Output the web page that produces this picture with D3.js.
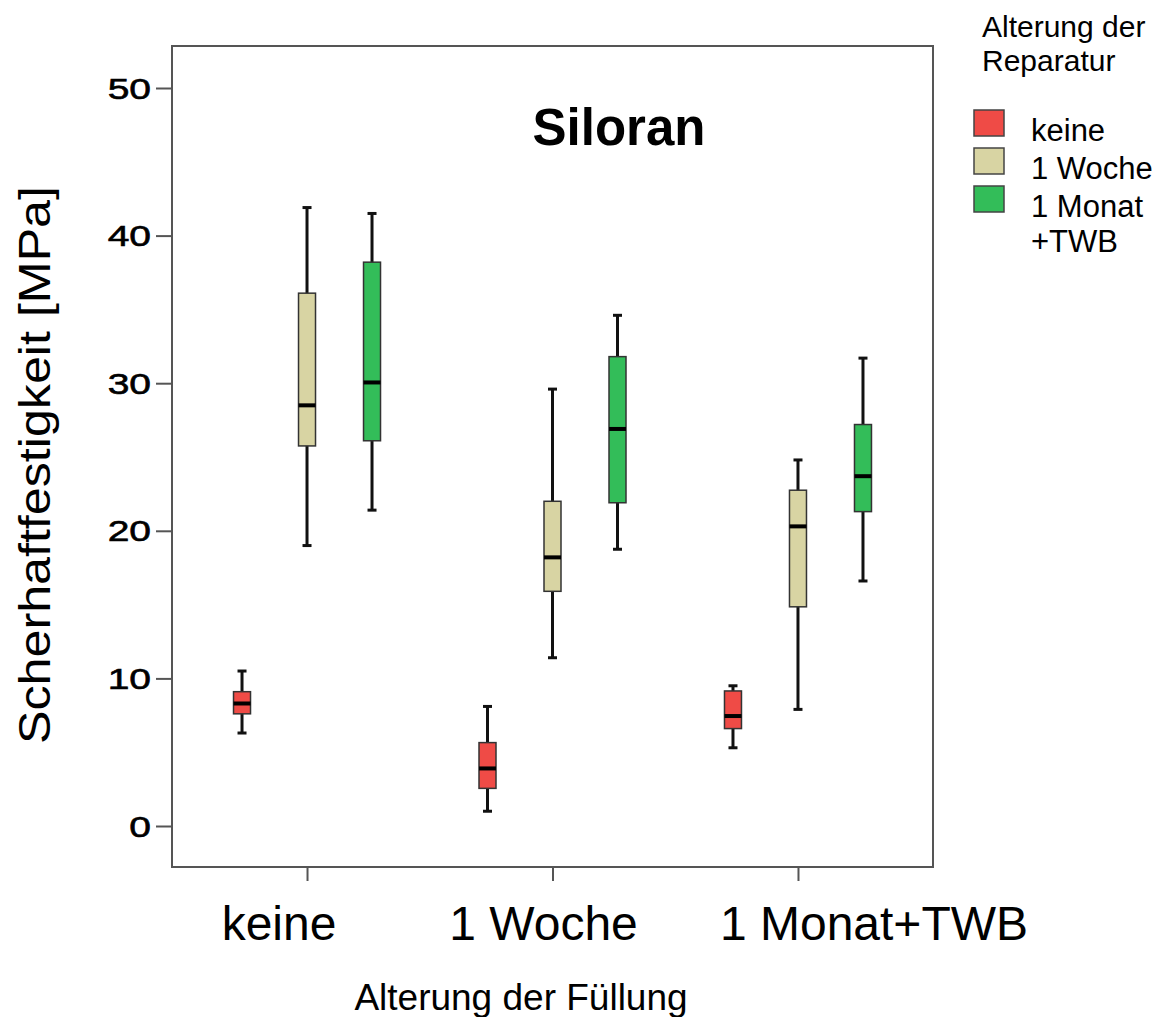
<!DOCTYPE html>
<html>
<head>
<meta charset="utf-8">
<script src="https://cdn.jsdelivr.net/npm/d3@7"></script>
<style>
  body { margin: 0; background: #fff; }
  text { font-family: "Liberation Sans", Arial, sans-serif; fill: #000; }
</style>
</head>
<body>
<svg id="chart" width="1173" height="1017"></svg>
<script>
// categories on the x axis (Alterung der Füllung)
const categories = ['keine', '1 Woche', '1 Monat+TWB']
// groups in the legend (Alterung der Reparatur)
const series = ['keine', '1 Woche', '1 Monat+TWB']
const seriesLegend = [['keine'], ['1 Woche'], ['1 Monat', '+TWB']]
const seriesColors = ['#ef4b46', '#d8d4a3', '#33bd59']

// [whisker low, Q1, median, Q3, whisker high] per category
const repKeine   = [[6.3, 7.6, 8.3, 9.1, 10.5], [1.0, 2.55, 3.9, 5.65, 8.1], [5.3, 6.6, 7.45, 9.15, 9.5]]
const repWoche   = [[19.0, 25.75, 28.5, 36.1, 41.9], [11.4, 15.9, 18.2, 22.0, 29.6], [7.9, 14.85, 20.3, 22.75, 24.8]]
const repMonat   = [[21.4, 26.1, 30.05, 38.2, 41.5], [18.75, 21.9, 26.9, 31.8, 34.6], [16.6, 21.3, 23.7, 27.2, 31.7]]

const yTicks = [0, 10, 20, 30, 40, 50]

const boxes = []
;[repKeine, repWoche, repMonat].forEach((arr, si) => {
  arr.forEach((v, ci) => {
    boxes.push({cat: categories[ci], ser: series[si], si: si,
      lo: v[0], q1: v[1], med: v[2], q3: v[3], hi: v[4]})
  })
})

const svg = d3.select('#chart')

const plotLeft = 172, plotRight = 933, plotTop = 46, plotBottom = 867

let y = d3.scaleLinear()
.domain([0, 50])
.range([826, 88])

let x = d3.scalePoint()
.domain(categories)
.range([plotLeft, plotRight])
.padding(0.55)

let xSub = d3.scalePoint()
.domain(series)
.range([-65, 65])

const boxW = 17, capW = 9

// frame
svg.append('rect')
.attr('x', plotLeft).attr('y', plotTop)
.attr('width', plotRight - plotLeft).attr('height', plotBottom - plotTop)
.attr('fill', 'none')
.attr('stroke', '#555')
.attr('stroke-width', 2)

// y axis
let yaxis = svg.append('g')
.attr('transform', `translate(${plotLeft},0)`)
.call(d3.axisLeft(y).tickValues(yTicks).tickSize(16).tickFormat(''))
yaxis.select('.domain').remove()
yaxis.selectAll('line').attr('stroke', '#555').attr('stroke-width', 2)

svg.append('g').selectAll('g')
.data(yTicks)
.enter()
.append('g')
.attr('transform', d => `translate(151,${y(d) + 10.5}) scale(1.3,1)`)
.append('text')
.attr('text-anchor', 'end')
.style('font-size', '30px')
.style('stroke', '#000')
.style('stroke-width', 0.6)
.text(d => d)

// x axis
let xaxis = svg.append('g')
.attr('transform', `translate(0,${plotBottom})`)
.call(d3.axisBottom(x).tickSize(14).tickFormat(''))
xaxis.select('.domain').remove()
xaxis.selectAll('line').attr('stroke', '#555').attr('stroke-width', 2)

const labelDx = [-28, -9, 76]
svg.append('g').selectAll('text')
.data(categories)
.enter()
.append('text')
.attr('x', (d, i) => x(d) + labelDx[i])
.attr('y', 940)
.attr('text-anchor', 'middle')
.style('font-size', '48px')
.text(d => d)

// boxes
let g = svg.append('g')
let bx = g.selectAll('g.box')
.data(boxes)
.enter()
.append('g')
.attr('class', 'box')
.attr('transform', d => `translate(${x(d.cat) + xSub(d.ser)},0)`)

bx.append('line')
.attr('x1', 0).attr('x2', 0)
.attr('y1', d => y(d.hi)).attr('y2', d => y(d.lo))
.attr('stroke', '#111').attr('stroke-width', 3)

bx.append('line')
.attr('x1', -capW / 2).attr('x2', capW / 2)
.attr('y1', d => y(d.hi)).attr('y2', d => y(d.hi))
.attr('stroke', '#111').attr('stroke-width', 3)

bx.append('line')
.attr('x1', -capW / 2).attr('x2', capW / 2)
.attr('y1', d => y(d.lo)).attr('y2', d => y(d.lo))
.attr('stroke', '#111').attr('stroke-width', 3)

bx.append('rect')
.attr('x', -boxW / 2)
.attr('width', boxW)
.attr('y', d => y(d.q3))
.attr('height', d => y(d.q1) - y(d.q3))
.attr('fill', d => seriesColors[d.si])
.attr('stroke', '#333')
.attr('stroke-width', 1.5)

bx.append('line')
.attr('x1', -boxW / 2).attr('x2', boxW / 2)
.attr('y1', d => y(d.med)).attr('y2', d => y(d.med))
.attr('stroke', '#000').attr('stroke-width', 4)

// title
svg.append('text')
.attr('x', 619).attr('y', 145)
.attr('text-anchor', 'middle')
.style('font-size', '51px')
.style('font-weight', 'bold')
.text('Siloran')

// axis titles
svg.append('text')
.attr('transform', 'translate(50,465) rotate(-90)')
.attr('text-anchor', 'middle')
.attr('textLength', 558)
.attr('lengthAdjust', 'spacingAndGlyphs')
.style('font-size', '44px')
.text('Scherhaftfestigkeit [MPa]')

svg.append('text')
.attr('x', 521).attr('y', 1010)
.attr('text-anchor', 'middle')
.style('font-size', '37px')
.text('Alterung der Füllung')

// legend
let legend = svg.append('g')
legend.append('text')
.attr('x', 982).attr('y', 37)
.style('font-size', '30px')
.text('Alterung der')
legend.append('text')
.attr('x', 982).attr('y', 71)
.style('font-size', '30px')
.text('Reparatur')

let items = legend.selectAll('g.item')
.data(series)
.enter()
.append('g')
.attr('class', 'item')
.attr('transform', (d, i) => `translate(0,${110 + i * 38})`)

items.append('rect')
.attr('x', 974).attr('y', 0)
.attr('width', 30).attr('height', 26)
.attr('fill', (d, i) => seriesColors[i])
.attr('stroke', '#444')
.attr('stroke-width', 1.5)

items.selectAll('text')
.data((d, i) => seriesLegend[i])
.enter()
.append('text')
.attr('x', 1031)
.attr('y', (d, j) => 31 + j * 35)
.style('font-size', '31px')
.text(d => d)
</script>
</body>
</html>
